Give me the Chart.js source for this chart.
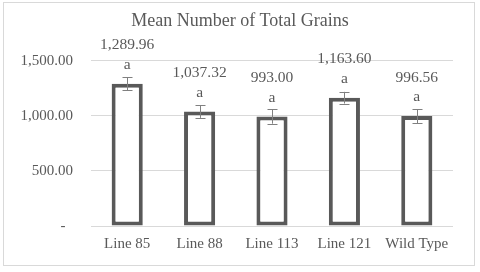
<!DOCTYPE html>
<html>
<head>
<meta charset="utf-8">
<script src="https://cdn.jsdelivr.net/npm/chart.js@4.4.1/dist/chart.umd.min.js"></script>
<style>
  html, body { margin: 0; padding: 0; background: #fff; }
  #wrap { width: 480px; height: 272px; }
</style>
</head>
<body>
<div id="wrap"><canvas id="grainsChart" width="480" height="272"></canvas></div>
<script>
const categories = ['Line 85', 'Line 88', 'Line 113', 'Line 121', 'Wild Type'];
const means = [1289.96, 1037.32, 993.00, 1163.60, 996.56];
const errors = [61, 57, 65, 53, 64];
const letters = ['a', 'a', 'a', 'a', 'a'];
const yTicks = [0, 500, 1000, 1500];

const textColor = '#595959';
const serif = "'Liberation Serif', 'DejaVu Serif', serif";

function fmt(v) {
    return v.toLocaleString('en-US', { minimumFractionDigits: 2, maximumFractionDigits: 2 });
}

// light grey frame round the whole chart
const framePlugin = {
    id: 'frame',
    beforeDraw(chart) {
        const ctx = chart.ctx;
        ctx.save();
        ctx.fillStyle = '#fff';
        ctx.fillRect(0, 0, chart.width, chart.height);
        ctx.strokeStyle = '#d9d9d9';
        ctx.lineWidth = 1;
        ctx.strokeRect(3.5, 2.5, 471, 263);
        ctx.restore();
    }
};

// error bars and value / letter labels above each bar
const barExtras = {
    id: 'barExtras',
    afterDatasetsDraw(chart) {
        const ctx = chart.ctx;
        const y = chart.scales.y;
        const meta = chart.getDatasetMeta(0);
        ctx.save();
        meta.data.forEach((bar, i) => {
            const x = Math.round(bar.x) + 0.5;
            const yHi = y.getPixelForValue(means[i] + errors[i]);
            const yLo = y.getPixelForValue(means[i] - errors[i]);
            ctx.strokeStyle = '#808080';
            ctx.lineWidth = 1;
            ctx.beginPath();
            ctx.moveTo(x, yHi); ctx.lineTo(x, yLo);
            ctx.moveTo(x - 5, Math.round(yHi) + 0.5); ctx.lineTo(x + 5, Math.round(yHi) + 0.5);
            ctx.moveTo(x - 5, Math.round(yLo) + 0.5); ctx.lineTo(x + 5, Math.round(yLo) + 0.5);
            ctx.stroke();

            const yv = y.getPixelForValue(means[i]);
            ctx.fillStyle = textColor;
            ctx.font = `15.5px ${serif}`;
            ctx.textAlign = 'center';
            ctx.textBaseline = 'middle';
            ctx.fillText(fmt(means[i]), bar.x, yv - 38.5);
            ctx.fillText(letters[i], bar.x, yv - 19);
        });
        ctx.restore();
    }
};

new Chart(document.getElementById('grainsChart').getContext('2d'), {
    type: 'bar',
    data: {
        labels: categories,
        datasets: [{
            data: means,
            backgroundColor: '#ffffff',
            borderColor: '#595959',
            borderWidth: 4,
            borderSkipped: false,
            categoryPercentage: 1,
            barPercentage: 0.43
        }]
    },
    options: {
        responsive: false,
        animation: false,
        events: [],
        layout: { padding: 0 },
        plugins: {
            legend: { display: false },
            tooltip: { enabled: false },
            title: {
                display: true,
                text: 'Mean Number of Total Grains',
                color: textColor,
                font: { family: serif, size: 18, weight: 'normal' },
                padding: { top: 10, bottom: 29 }
            }
        },
        scales: {
            x: {
                grid: { display: false, drawTicks: false },
                border: { display: false },
                ticks: { color: textColor, font: { family: serif, size: 15 }, padding: 9 },
                afterFit(scale) { scale.height = 46; }
            },
            y: {
                min: 0,
                max: 1500,
                afterBuildTicks(scale) { scale.ticks = yTicks.map((v) => ({ value: v })); },
                grid: { color: '#d9d9d9', drawTicks: false },
                border: { display: false },
                ticks: {
                    color: textColor,
                    font: { family: serif, size: 15 },
                    padding: 18,
                    callback: (v) => (v === 0 ? '-\u00a0\u00a0' : fmt(v))
                },
                afterFit(scale) { scale.width = 91; }
            },
            // empty right-hand margin so the title stays centred on the canvas
            yRight: {
                position: 'right',
                grid: { display: false, drawTicks: false },
                border: { display: false },
                ticks: { display: false },
                afterFit(scale) { scale.width = 27; }
            }
        }
    },
    plugins: [framePlugin, barExtras]
});
</script>
</body>
</html>
